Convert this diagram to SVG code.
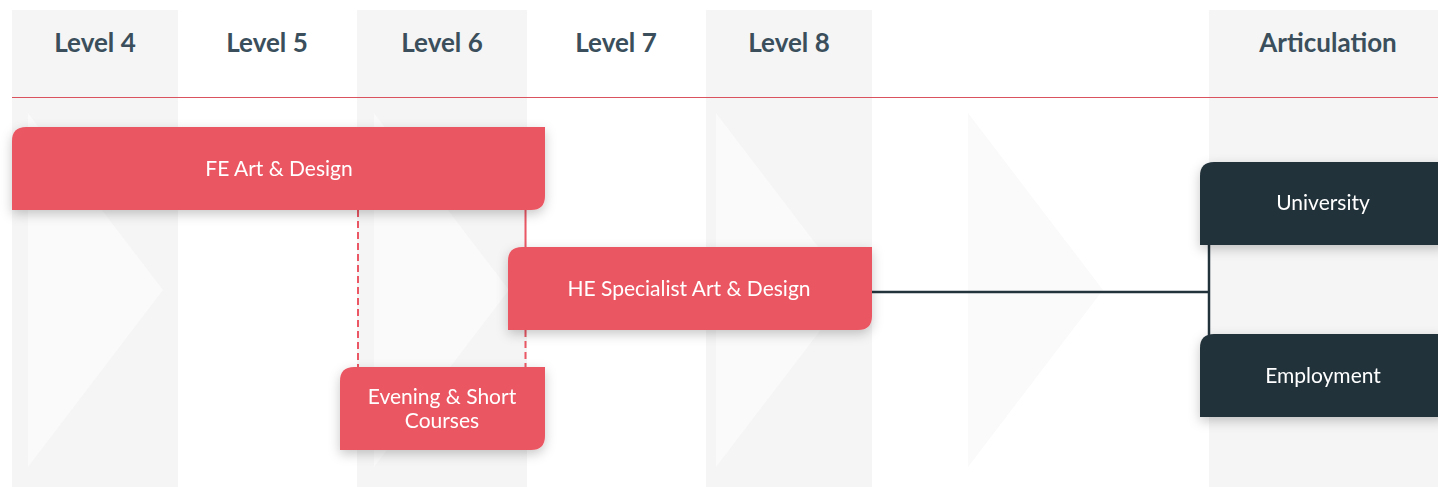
<svg xmlns="http://www.w3.org/2000/svg" width="1438" height="487" viewBox="0 0 1438 487">
<style>
.col{fill:#f5f5f5}
.chev{fill:#fafafa}
.hdr{font-family:Lato,"Open Sans",sans-serif;font-weight:700;font-size:26px;fill:#3a4f5b;text-anchor:middle}
.lbl{font-family:Lato,"Open Sans",sans-serif;font-size:21px;fill:#ffffff;text-anchor:middle}
.red{fill:#eb5764}
.dark{fill:#22333b}
.cr{stroke:#eb5764;stroke-width:2;fill:none}
.dash{stroke-dasharray:7 4}
.cd{stroke:#22333b;stroke-width:2.5;fill:none}
</style>
<defs>
<filter id="sh" x="-20%" y="-30%" width="140%" height="170%">
<feDropShadow dx="0" dy="4" stdDeviation="6" flood-color="#000" flood-opacity="0.22"/>
</filter>
</defs>
<rect width="1438" height="487" fill="#ffffff"/>
<g id="columns">
<rect class="col" x="12" y="10" width="166" height="477"/>
<rect class="col" x="357" y="10" width="170" height="477"/>
<rect class="col" x="706" y="10" width="166" height="477"/>
<rect class="col" x="1209" y="10" width="229" height="477"/>
</g>
<g id="chevrons">
<polygon class="chev" points="28,113 163,290 28,467"/>
<polygon class="chev" points="374,113 509,290 374,467"/>
<polygon class="chev" points="716,113 851,290 716,467"/>
<polygon class="chev" points="968,113 1103,290 968,467"/>
</g>
<g id="headers">
<text class="hdr" x="95" y="52">Level 4</text>
<text class="hdr" x="267" y="52">Level 5</text>
<text class="hdr" x="442" y="52">Level 6</text>
<text class="hdr" x="616" y="52">Level 7</text>
<text class="hdr" x="789" y="52">Level 8</text>
<text class="hdr" x="1328" y="52">Articulation</text>
</g>
<rect x="12" y="97" width="1426" height="1" fill="#d9525e"/>
<g id="connectors">
<line class="cr dash" x1="358" y1="210" x2="358" y2="367"/>
<line class="cr" x1="525.5" y1="210" x2="525.5" y2="247"/>
<line class="cr dash" x1="525.5" y1="330" x2="525.5" y2="367"/>
<polyline class="cd" points="872,292 1209,292"/>
<line class="cd" x1="1209" y1="245" x2="1209" y2="335"/>
</g>
<g id="fe-art-design" filter="url(#sh)">
<path class="red" d="M12,141 Q12,127 26,127 L545,127 L545,196 Q545,210 531,210 L12,210 Z"/>
<text class="lbl" x="279" y="176">FE Art &amp; Design</text>
</g>
<g id="he-specialist" filter="url(#sh)">
<path class="red" d="M508,261 Q508,247 522,247 L872,247 L872,316 Q872,330 858,330 L508,330 Z"/>
<text class="lbl" x="689" y="296">HE Specialist Art &amp; Design</text>
</g>
<g id="evening-short" filter="url(#sh)">
<path class="red" d="M340,381 Q340,367 354,367 L545,367 L545,436 Q545,450 531,450 L340,450 Z"/>
<text class="lbl" x="442" y="404">Evening &amp; Short</text>
<text class="lbl" x="442" y="428">Courses</text>
</g>
<g id="university" filter="url(#sh)">
<path class="dark" d="M1200,176 Q1200,162 1214,162 L1445,162 L1445,245 L1200,245 Z"/>
<text class="lbl" x="1323" y="210">University</text>
</g>
<g id="employment" filter="url(#sh)">
<path class="dark" d="M1200,348 Q1200,334 1214,334 L1445,334 L1445,417 L1200,417 Z"/>
<text class="lbl" x="1323" y="383">Employment</text>
</g>
</svg>
